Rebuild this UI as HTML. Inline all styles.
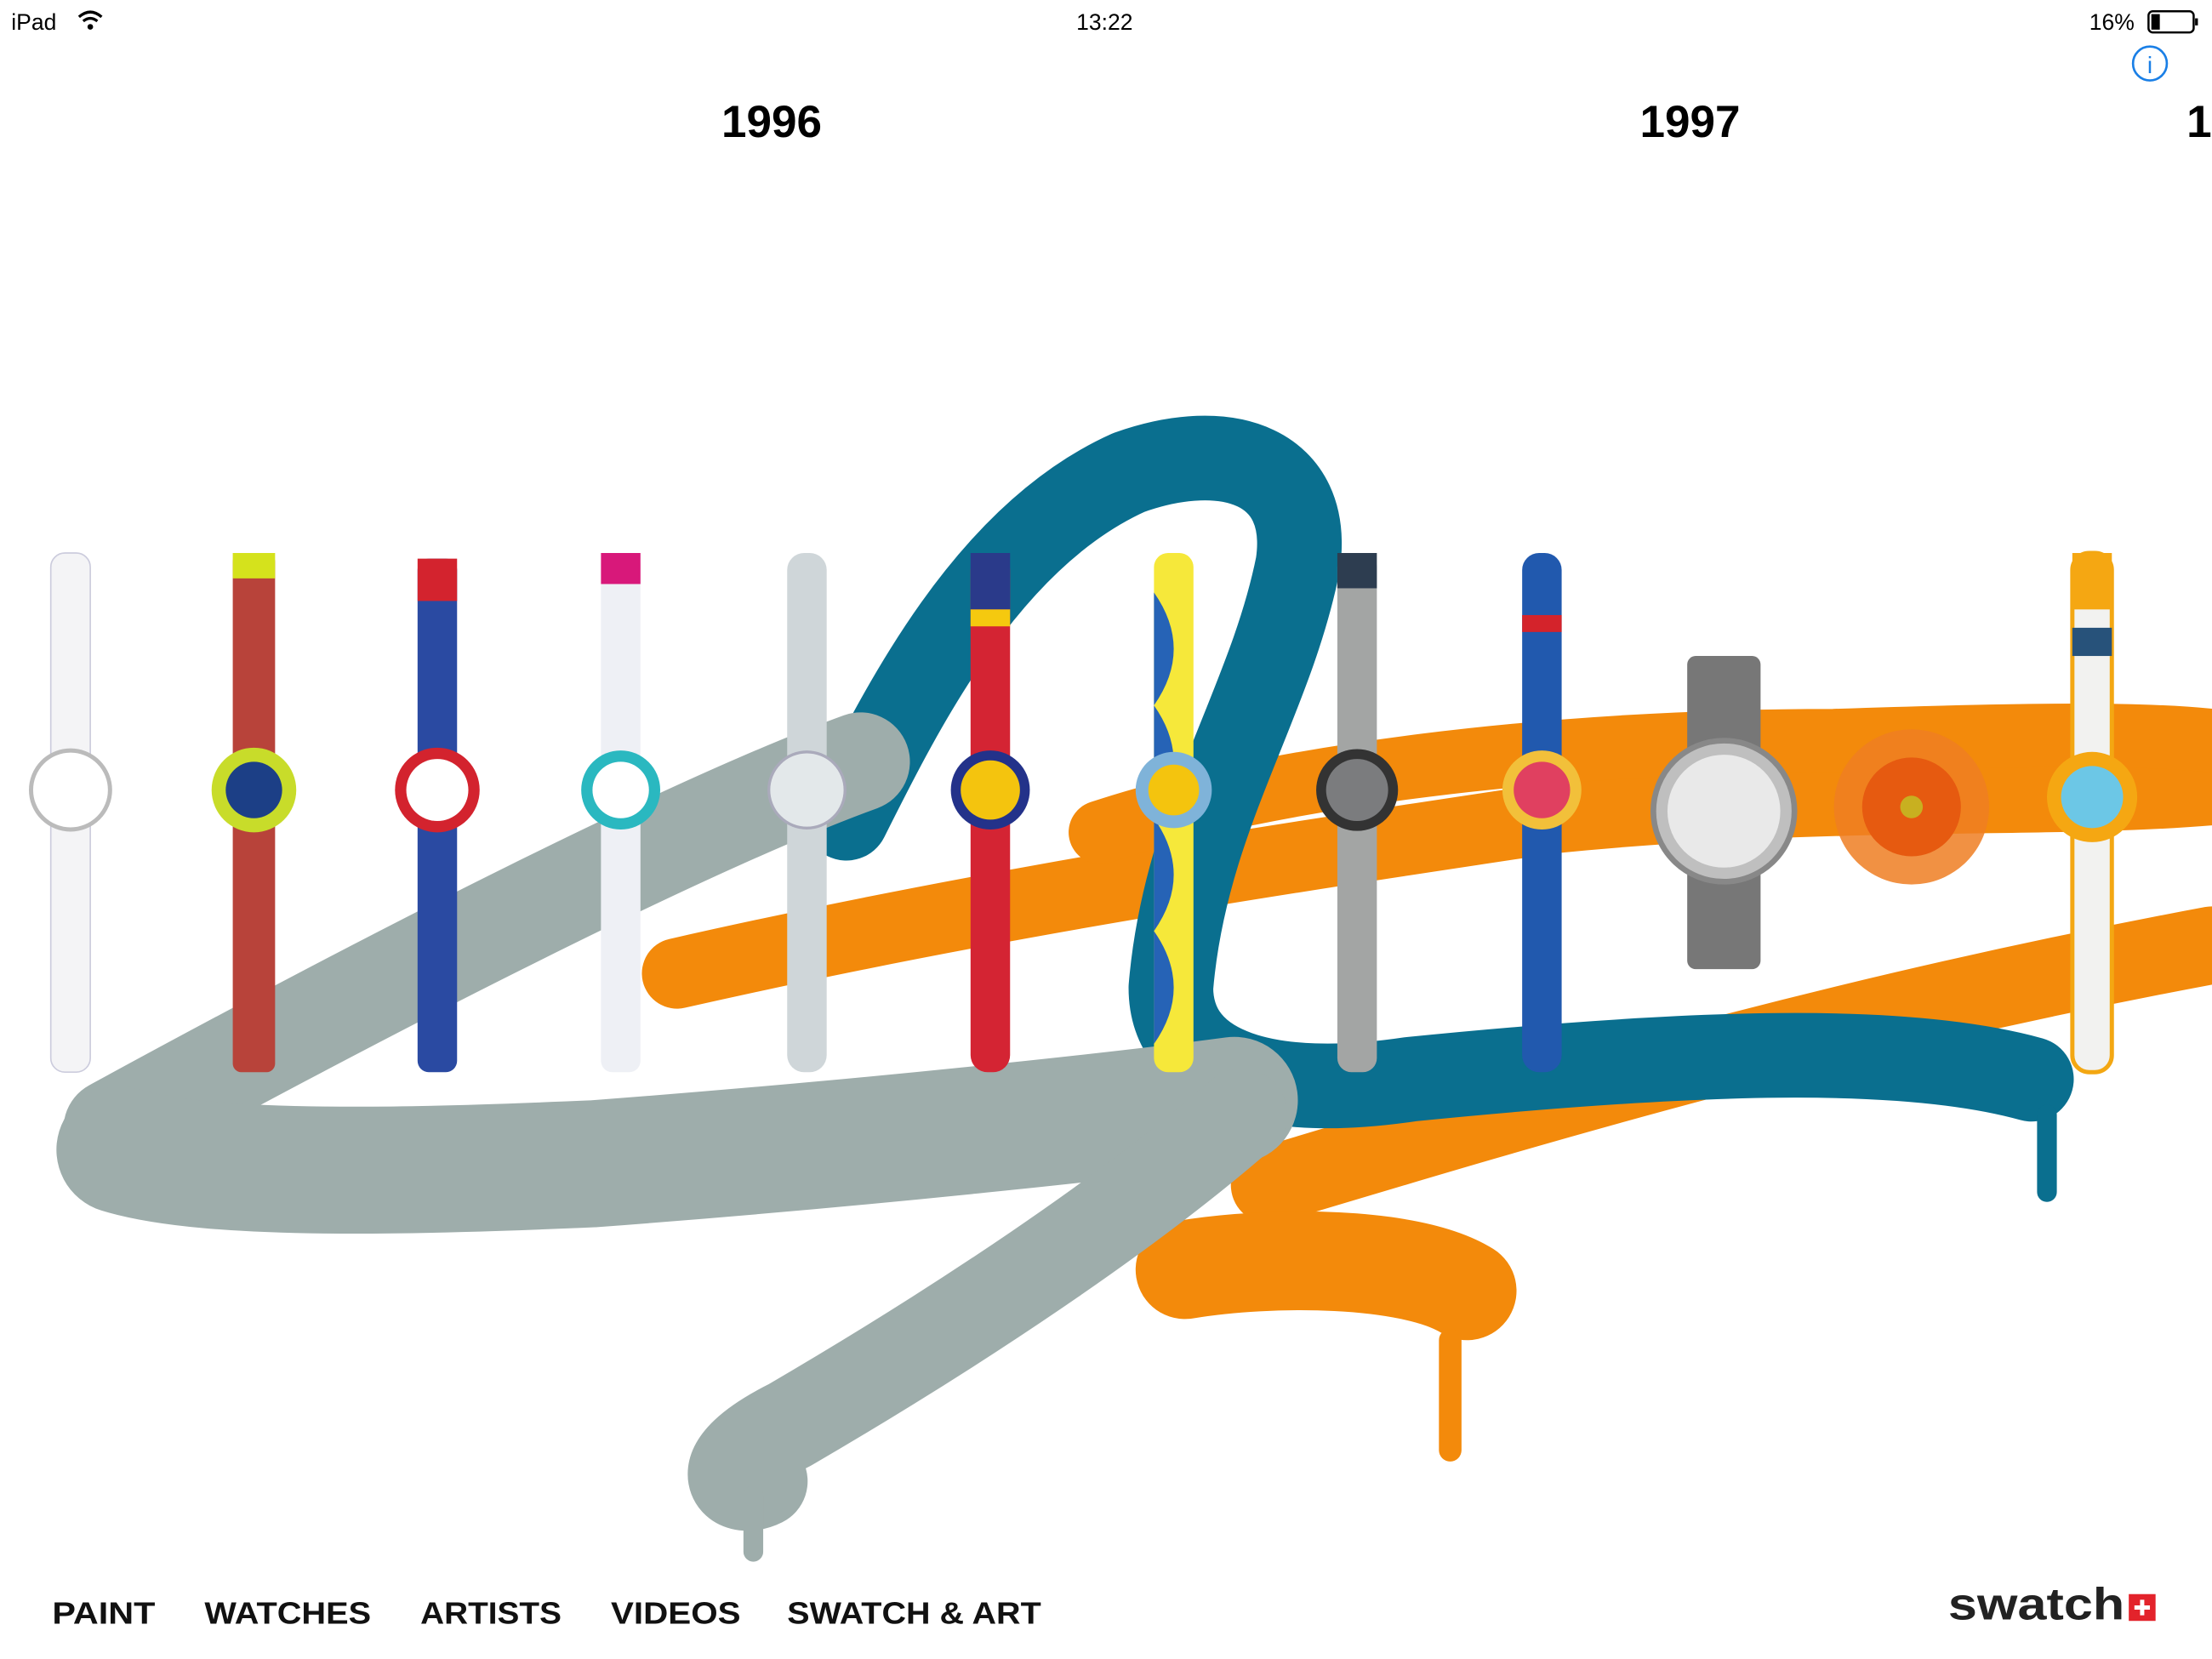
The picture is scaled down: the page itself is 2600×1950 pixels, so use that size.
<!DOCTYPE html>
<html><head><meta charset="utf-8"><style>
html,body{margin:0;padding:0;background:#fff;width:2600px;height:1950px;overflow:hidden}
svg{display:block}
text{font-family:"Liberation Sans",sans-serif}
</style></head><body>
<svg width="2600" height="1950" viewBox="0 0 1568 1176" preserveAspectRatio="none" xmlns="http://www.w3.org/2000/svg">
<rect width="1568" height="1176" fill="#fff"/>
<text x="8" y="21" font-size="16" fill="#000">iPad</text>
<path d="M56 12 q8 -7 16 0 M59 15 q5 -4 10 0" stroke="#000" stroke-width="2" fill="none"/><circle cx="64" cy="19" r="2"/>
<text x="783" y="21" font-size="16" text-anchor="middle">13:22</text>
<text x="1481" y="21" font-size="16">16%</text>
<rect x="1523" y="8" width="32" height="15" rx="3" fill="none" stroke="#000" stroke-width="1.5"/>
<rect x="1525" y="10" width="6" height="11" fill="#000"/><rect x="1556" y="13" width="2" height="5"/>
<circle cx="1524" cy="45" r="12" fill="none" stroke="#1a7fe6" stroke-width="1.6"/>
<text x="1524" y="52" font-size="17" fill="#1a7fe6" text-anchor="middle" font-family="Liberation Serif">i</text>
<text x="547" y="97" font-size="32" font-weight="bold" text-anchor="middle">1996</text>
<text x="1198" y="97" font-size="32" font-weight="bold" text-anchor="middle">1997</text>
<text x="1550" y="97" font-size="32" font-weight="bold">1</text>
<g stroke="#f38a0b" fill="none" stroke-linecap="round" stroke-linejoin="round">
<path d="M480 690 C700 640 900 610 1100 580 C1300 560 1450 570 1568 560" stroke-width="50"/>
<path d="M780 590 C900 550 1100 525 1300 525 C1450 520 1520 520 1568 525" stroke-width="45"/>
<path d="M900 840 C1100 780 1300 720 1568 670" stroke-width="55"/>
<path d="M840 900 C900 890 1000 890 1040 915" stroke-width="70"/>
<path d="M1028 950 L1028 1028" stroke-width="16"/>
</g>
<g stroke="#0a6f8f" fill="none" stroke-linecap="round" stroke-linejoin="round">
<path d="M600 580 C640 500 700 380 800 335 C870 310 930 330 920 400 C900 500 840 580 830 700 C830 760 900 780 1000 765 C1200 745 1350 740 1440 765" stroke-width="60"/>
<path d="M1451 790 L1451 845" stroke-width="14"/>
</g>
<g stroke="#9eadab" fill="none" stroke-linecap="round" stroke-linejoin="round">
<path d="M610 540 C500 580 300 680 80 800" stroke-width="70"/>
<path d="M85 815 C150 835 300 830 420 825 C620 810 800 790 875 780" stroke-width="90"/>
<path d="M880 790 C800 860 680 940 560 1010 C500 1040 520 1060 540 1050" stroke-width="65"/>
<path d="M534 1060 L534 1100" stroke-width="14"/>
</g>
<g>
<g transform="translate(50,0)"><rect x="-14" y="392" width="28" height="368" rx="10" fill="#f4f4f6" stroke="#ccd" /><circle cx="0" cy="560" r="28" fill="#fff" stroke="#bbb" stroke-width="3"/></g>
<g transform="translate(180,0)"><rect x="-15" y="392" width="30" height="368" rx="6" fill="#b8433a"/><rect x="-15" y="392" width="30" height="18" fill="#d5e21c"/><circle cx="0" cy="560" r="30" fill="#c8dc2a"/><circle cx="0" cy="560" r="20" fill="#1c3f86"/></g>
<g transform="translate(310,0)"><rect x="-14" y="396" width="28" height="364" rx="8" fill="#2a4aa2"/><rect x="-14" y="396" width="28" height="30" fill="#d3232e"/><circle cx="0" cy="560" r="30" fill="#d3232e"/><circle cx="0" cy="560" r="22" fill="#fff"/></g>
<g transform="translate(440,0)"><rect x="-14" y="392" width="28" height="368" rx="8" fill="#eef0f5"/><rect x="-14" y="392" width="28" height="22" fill="#d8187a"/><circle cx="0" cy="560" r="28" fill="#2ab8c0"/><circle cx="0" cy="560" r="20" fill="#fff"/></g>
<g transform="translate(572,0)"><rect x="-14" y="392" width="28" height="368" rx="12" fill="#cfd6d9"/><circle cx="0" cy="560" r="27" fill="#e3e8ea" stroke="#aab" stroke-width="2"/></g>
<g transform="translate(702,0)"><rect x="-14" y="392" width="28" height="368" rx="12" fill="#d42433"/><rect x="-14" y="392" width="28" height="40" fill="#2a3a8a"/><rect x="-14" y="432" width="28" height="12" fill="#f5c90f"/><circle cx="0" cy="560" r="28" fill="#23328a"/><circle cx="0" cy="560" r="21" fill="#f4c40e"/></g>
<g transform="translate(832,0)"><rect x="-14" y="392" width="28" height="368" rx="10" fill="#f6e83a"/><path d="M-14 420 q28 40 0 80 q28 40 0 80 q28 40 0 80 q28 40 0 80" fill="#2663b6"/><circle cx="0" cy="560" r="27" fill="#7fb3d9"/><circle cx="0" cy="560" r="18" fill="#f4c40e"/></g>
<g transform="translate(962,0)"><rect x="-14" y="392" width="28" height="368" rx="10" fill="#a3a5a4"/><rect x="-14" y="392" width="28" height="25" fill="#2d3d50"/><circle cx="0" cy="560" r="29" fill="#333"/><circle cx="0" cy="560" r="22" fill="#7b7c7e"/></g>
<g transform="translate(1093,0)"><rect x="-14" y="392" width="28" height="368" rx="12" fill="#2159ae"/><rect x="-14" y="436" width="28" height="12" fill="#d4232b"/><circle cx="0" cy="560" r="28" fill="#f2c03a"/><circle cx="0" cy="560" r="20" fill="#e04060"/></g>
<g transform="translate(1222,0)"><rect x="-26" y="465" width="52" height="222" rx="6" fill="#777"/><circle cx="0" cy="575" r="50" fill="#bfbfbf" stroke="#888" stroke-width="4"/><circle cx="0" cy="575" r="40" fill="#e9e9e9"/></g>
<g transform="translate(1355,572)"><circle r="55" fill="#ef7e22" opacity="0.85"/><circle r="35" fill="#e65a10"/><circle r="8" fill="#c8b020"/></g>
<g transform="translate(1483,0)"><rect x="-14" y="392" width="28" height="368" rx="12" fill="#f2f2f0" stroke="#f3a712" stroke-width="3"/><rect x="-14" y="392" width="28" height="40" fill="#f5a712"/><rect x="-14" y="445" width="28" height="20" fill="#27527a"/><circle cx="0" cy="565" r="32" fill="#f5a712"/><circle cx="0" cy="565" r="22" fill="#6cc7e6"/></g>
</g>
<g font-size="22" font-weight="bold" fill="#111">
<text x="37" y="1151" textLength="73" lengthAdjust="spacingAndGlyphs">PAINT</text>
<text x="145" y="1151" textLength="118" lengthAdjust="spacingAndGlyphs">WATCHES</text>
<text x="298" y="1151" textLength="100" lengthAdjust="spacingAndGlyphs">ARTISTS</text>
<text x="433" y="1151" textLength="92" lengthAdjust="spacingAndGlyphs">VIDEOS</text>
<text x="558" y="1151" textLength="180" lengthAdjust="spacingAndGlyphs">SWATCH &amp; ART</text>
</g>
<text x="1381" y="1148" font-size="32" font-weight="bold" fill="#222" textLength="125" lengthAdjust="spacingAndGlyphs">swatch</text>
<rect x="1509" y="1130" width="19" height="19" fill="#e3232b"/>
<path d="M1518.5 1134 v11 M1513 1139.5 h11" stroke="#fff" stroke-width="3"/>
</svg>
</body></html>
